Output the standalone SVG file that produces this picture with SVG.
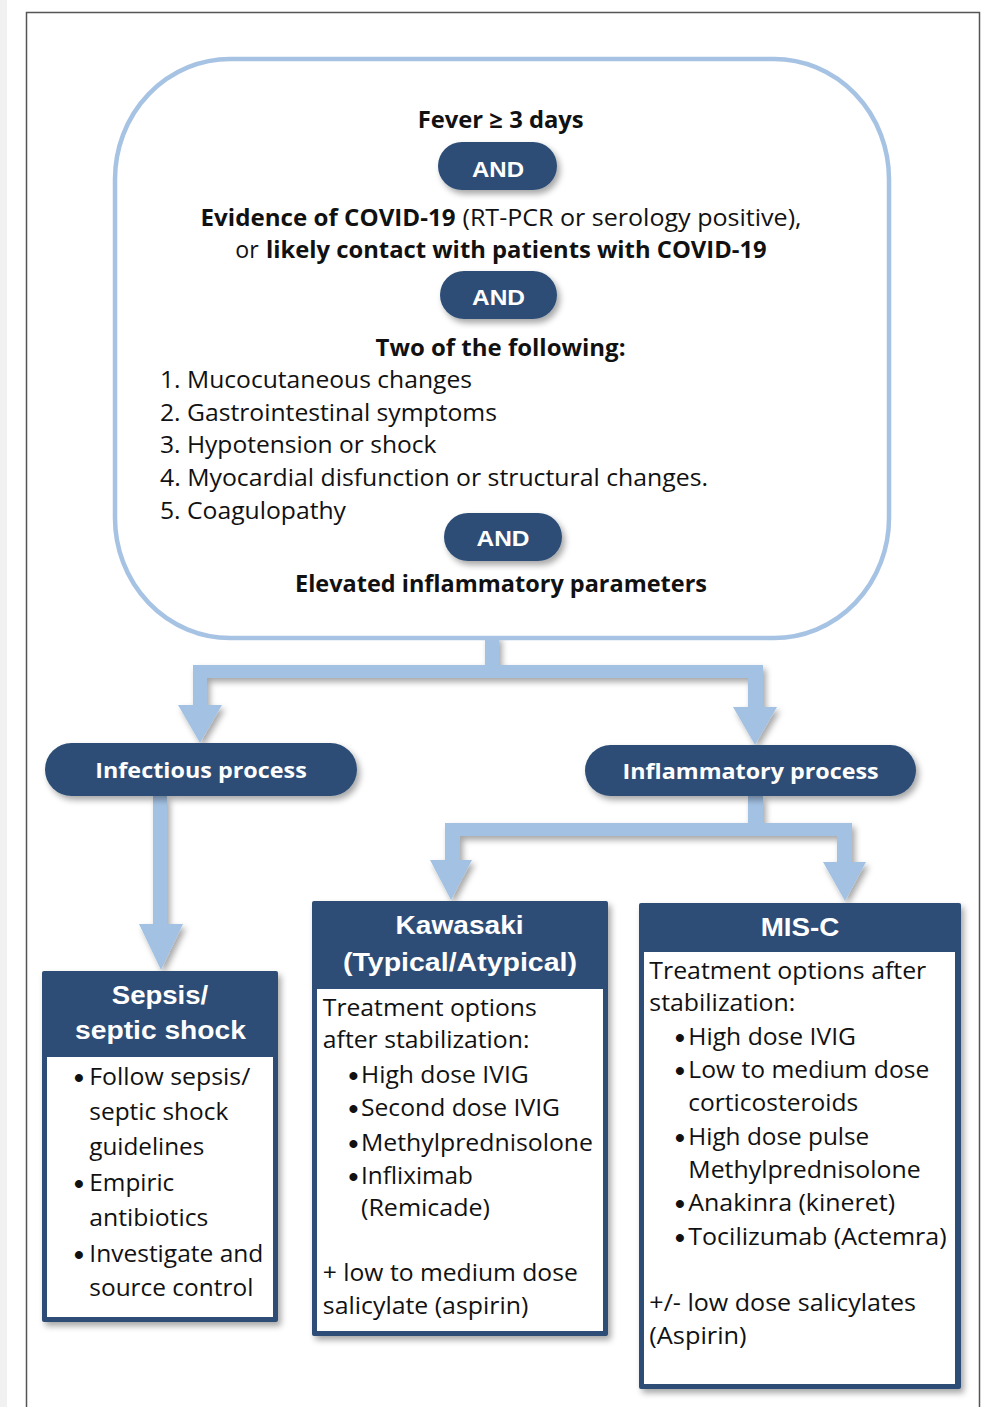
<svg xmlns="http://www.w3.org/2000/svg" width="989" height="1407" viewBox="0 0 989 1407">
<defs>
<filter id="sh" x="-20%" y="-20%" width="140%" height="140%">
<feDropShadow dx="3" dy="4" stdDeviation="3" flood-color="#000" flood-opacity="0.35"/>
</filter>
<style>
.dark{fill:#2d4e76}
.flow{fill:#a3c1e3}
.t{font-family:"Open Sans","Liberation Sans",sans-serif;font-size:24px;fill:#111}
.b{font-family:"Open Sans","Liberation Sans",sans-serif;font-size:23px;font-weight:bold;fill:#111}
.h{font-family:"Liberation Sans",Arial,sans-serif;font-size:26px;font-weight:bold;fill:#fff;text-anchor:middle}
.p{font-family:"Open Sans","Liberation Sans",sans-serif;font-size:21px;font-weight:bold;fill:#fff;text-anchor:middle}
.a{font-family:"Liberation Sans",Arial,sans-serif;font-size:22px;font-weight:bold;fill:#fff;text-anchor:middle}
.bu{font-family:"Liberation Sans",Arial,sans-serif;font-size:28px;font-weight:bold;fill:#111;text-anchor:middle}
</style>
</defs>
<rect x="0" y="0" width="989" height="1407" fill="#fff"/>
<rect x="0" y="0" width="7" height="1407" fill="#f1f1f1"/>
<path d="M26.5,1407 V12.5 H979.5 V1407" fill="none" stroke="#555" stroke-width="1.5"/>

<g id="connectors">
<g filter="url(#sh)">
<polygon class="flow" points="485,636 499,636 499,665 763,665 763,707 777,707 755,745 733,707 748,707 748,678 207,678 207,705 222,705 200,743 178,705 193,705 193,665 485,665"/>
<polygon class="flow" points="153,796 167,796 167,924 183,924 161,970 139,924 153,924"/>
<polygon class="flow" points="748,796 763,796 763,823 852,823 852,862 866,862 845,901 823,862 837,862 837,836 460,836 460,860 472,860 451,900 430,860 445,860 445,823 748,823"/>
</g>
</g>

<g id="criteria">
<rect x="115" y="59" width="774" height="579" rx="115" ry="120" fill="#fff" stroke="#a7c3e4" stroke-width="4.5"/>
<text class="b" x="417.7" y="128" textLength="166" lengthAdjust="spacingAndGlyphs">Fever ≥ 3 days</text>
<text class="b" x="200.6" y="226" textLength="255" lengthAdjust="spacingAndGlyphs">Evidence of COVID-19</text>
<text class="t" x="462.5" y="226" textLength="339" lengthAdjust="spacingAndGlyphs">(RT-PCR or serology positive),</text>
<text class="t" x="235.3" y="257.5" textLength="23.4" lengthAdjust="spacingAndGlyphs">or</text>
<text class="b" x="266" y="257.5" textLength="500.6" lengthAdjust="spacingAndGlyphs">likely contact with patients with COVID-19</text>
<text class="b" x="375.5" y="356" textLength="250" lengthAdjust="spacingAndGlyphs">Two of the following:</text>
<text class="t" x="160" y="388" textLength="312" lengthAdjust="spacingAndGlyphs">1. Mucocutaneous changes</text>
<text class="t" x="160" y="420.5" textLength="337" lengthAdjust="spacingAndGlyphs">2. Gastrointestinal symptoms</text>
<text class="t" x="160" y="453" textLength="276.5" lengthAdjust="spacingAndGlyphs">3. Hypotension or shock</text>
<text class="t" x="160" y="486" textLength="548" lengthAdjust="spacingAndGlyphs">4. Myocardial disfunction or structural changes.</text>
<text class="t" x="160" y="518.5" textLength="186" lengthAdjust="spacingAndGlyphs">5. Coagulopathy</text>
<text class="b" x="295" y="592" textLength="412" lengthAdjust="spacingAndGlyphs">Elevated inflammatory parameters</text>
</g>

<g id="and1">
<rect class="dark" x="438" y="142" width="119" height="48" rx="24" filter="url(#sh)"/>
<text class="a" x="498" y="177" textLength="52" lengthAdjust="spacingAndGlyphs">AND</text>
</g>
<g id="and2">
<rect class="dark" x="440" y="271" width="117" height="48" rx="24" filter="url(#sh)"/>
<text class="a" x="498.5" y="305" textLength="53" lengthAdjust="spacingAndGlyphs">AND</text>
</g>
<g id="and3">
<rect class="dark" x="444" y="513" width="118" height="48" rx="24" filter="url(#sh)"/>
<text class="a" x="503" y="546" textLength="53" lengthAdjust="spacingAndGlyphs">AND</text>
</g>

<g id="infectious">
<rect class="dark" x="45" y="743" width="312" height="53" rx="26.5" filter="url(#sh)"/>
<text class="p" x="201" y="777.5" textLength="211.5" lengthAdjust="spacingAndGlyphs">Infectious process</text>
</g>
<g id="inflammatory">
<rect class="dark" x="585" y="745" width="331" height="51" rx="25.5" filter="url(#sh)"/>
<text class="p" x="750.6" y="778.5" textLength="256" lengthAdjust="spacingAndGlyphs">Inflammatory process</text>
</g>

<g id="sepsis">
<rect class="dark" x="42" y="971" width="236" height="351" rx="2" filter="url(#sh)"/>
<rect x="47" y="1057" width="226" height="260" fill="#fff"/>
<text class="h" x="160" y="1004" textLength="96.5" lengthAdjust="spacingAndGlyphs">Sepsis/</text>
<text class="h" x="160.5" y="1039" textLength="171" lengthAdjust="spacingAndGlyphs">septic shock</text>
<text class="bu" x="79" y="1086.5">•</text>
<text class="t" x="89.3" y="1084.5" textLength="161" lengthAdjust="spacingAndGlyphs">Follow sepsis/</text>
<text class="t" x="89.3" y="1119.5" textLength="139" lengthAdjust="spacingAndGlyphs">septic shock</text>
<text class="t" x="89.3" y="1154.5" textLength="115" lengthAdjust="spacingAndGlyphs">guidelines</text>
<text class="bu" x="79" y="1192.5">•</text>
<text class="t" x="89.3" y="1190.5" textLength="85" lengthAdjust="spacingAndGlyphs">Empiric</text>
<text class="t" x="89.3" y="1225.5" textLength="119" lengthAdjust="spacingAndGlyphs">antibiotics</text>
<text class="bu" x="79" y="1263.5">•</text>
<text class="t" x="89.3" y="1261.5" textLength="174" lengthAdjust="spacingAndGlyphs">Investigate and</text>
<text class="t" x="89.3" y="1295.5" textLength="164" lengthAdjust="spacingAndGlyphs">source control</text>
</g>

<g id="kawasaki">
<rect class="dark" x="312" y="901" width="296" height="435" rx="2" filter="url(#sh)"/>
<rect x="317" y="989" width="286" height="342" fill="#fff"/>
<text class="h" x="459.6" y="933.5" textLength="128" lengthAdjust="spacingAndGlyphs">Kawasaki</text>
<text class="h" x="460" y="970.5" textLength="234" lengthAdjust="spacingAndGlyphs">(Typical/Atypical)</text>
<text class="t" x="322.8" y="1015.5" textLength="214" lengthAdjust="spacingAndGlyphs">Treatment options</text>
<text class="t" x="322.8" y="1047.5" textLength="206.6" lengthAdjust="spacingAndGlyphs">after stabilization:</text>
<text class="bu" x="353.4" y="1084.5">•</text>
<text class="t" x="361" y="1082.5" textLength="167.7" lengthAdjust="spacingAndGlyphs">High dose IVIG</text>
<text class="bu" x="353.4" y="1117.5">•</text>
<text class="t" x="361" y="1115.5" textLength="199" lengthAdjust="spacingAndGlyphs">Second dose IVIG</text>
<text class="bu" x="353.4" y="1152.5">•</text>
<text class="t" x="361" y="1150.5" textLength="232" lengthAdjust="spacingAndGlyphs">Methylprednisolone</text>
<text class="bu" x="353.4" y="1185.5">•</text>
<text class="t" x="361" y="1183.5" textLength="112" lengthAdjust="spacingAndGlyphs">Infliximab</text>
<text class="t" x="361" y="1215.5" textLength="129" lengthAdjust="spacingAndGlyphs">(Remicade)</text>
<text class="t" x="322.8" y="1281" textLength="255" lengthAdjust="spacingAndGlyphs">+ low to medium dose</text>
<text class="t" x="322.8" y="1313.5" textLength="205.5" lengthAdjust="spacingAndGlyphs">salicylate (aspirin)</text>
</g>

<g id="misc">
<rect class="dark" x="639" y="903" width="322" height="486" rx="2" filter="url(#sh)"/>
<rect x="644" y="952" width="311" height="432" fill="#fff"/>
<text class="h" x="800" y="935.5" textLength="78.7" lengthAdjust="spacingAndGlyphs">MIS-C</text>
<text class="t" x="649.3" y="978.5" textLength="277" lengthAdjust="spacingAndGlyphs">Treatment options after</text>
<text class="t" x="649.3" y="1010.5" textLength="146" lengthAdjust="spacingAndGlyphs">stabilization:</text>
<text class="bu" x="680" y="1046.5">•</text>
<text class="t" x="688.3" y="1044.5" textLength="167.7" lengthAdjust="spacingAndGlyphs">High dose IVIG</text>
<text class="bu" x="680" y="1080">•</text>
<text class="t" x="688.3" y="1078" textLength="241" lengthAdjust="spacingAndGlyphs">Low to medium dose</text>
<text class="t" x="688.3" y="1111" textLength="170" lengthAdjust="spacingAndGlyphs">corticosteroids</text>
<text class="bu" x="680" y="1146.5">•</text>
<text class="t" x="688.3" y="1144.5" textLength="181" lengthAdjust="spacingAndGlyphs">High dose pulse</text>
<text class="t" x="688.3" y="1177.5" textLength="232.3" lengthAdjust="spacingAndGlyphs">Methylprednisolone</text>
<text class="bu" x="680" y="1213">•</text>
<text class="t" x="688.3" y="1211" textLength="206.7" lengthAdjust="spacingAndGlyphs">Anakinra (kineret)</text>
<text class="bu" x="680" y="1246.5">•</text>
<text class="t" x="688.3" y="1244.5" textLength="258.3" lengthAdjust="spacingAndGlyphs">Tocilizumab (Actemra)</text>
<text class="t" x="649.3" y="1311" textLength="266.7" lengthAdjust="spacingAndGlyphs">+/- low dose salicylates</text>
<text class="t" x="649.3" y="1343.5" textLength="97.3" lengthAdjust="spacingAndGlyphs">(Aspirin)</text>
</g>
</svg>
